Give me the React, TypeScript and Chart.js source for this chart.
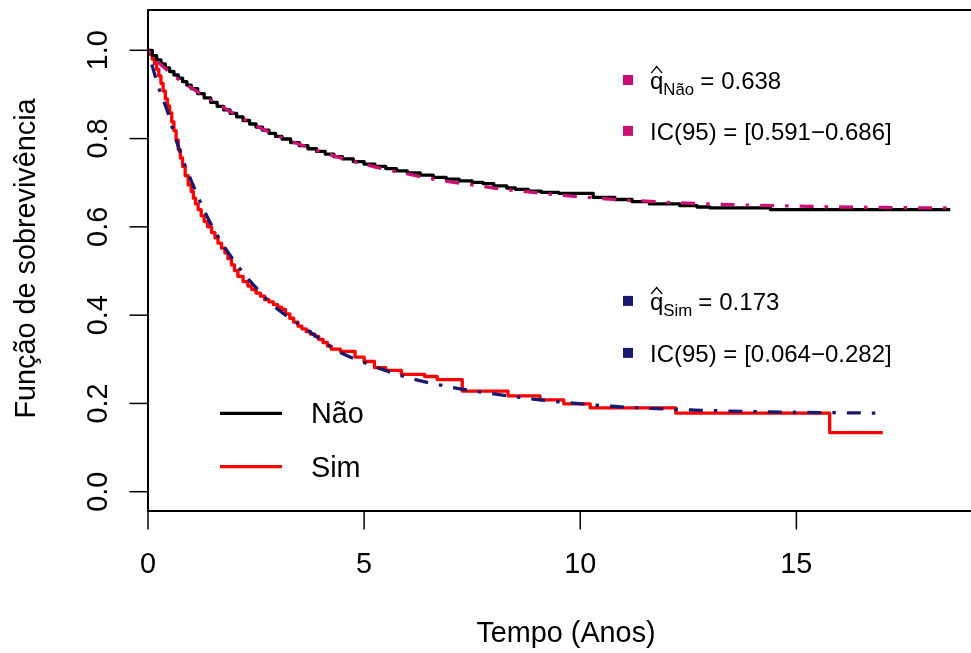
import React, { useEffect, useRef } from "react";
import { Chart, registerables } from "chart.js";

Chart.register(...registerables);

// ---- data ----
const kmNaoT = [0, 0.1, 0.2, 0.3, 0.4, 0.5, 0.6, 0.7, 0.8, 0.9, 1.0, 1.15, 1.3, 1.45, 1.6, 1.75, 1.9, 2.05, 2.2, 2.35, 2.5, 2.65, 2.8, 2.95, 3.1, 3.3, 3.5, 3.7, 3.9, 4.1, 4.3, 4.5, 4.75, 5.0, 5.25, 5.5, 5.75, 6.0, 6.3, 6.6, 6.9, 7.2, 7.5, 7.75, 8.0, 8.3, 8.5, 8.8, 9.1, 9.5, 10.3, 10.8, 11.2, 11.6, 12.3, 12.7, 13.0, 14.4, 18.56];
const kmNaoS = [1.0, 0.988, 0.978, 0.969, 0.96, 0.952, 0.944, 0.937, 0.929, 0.921, 0.913, 0.902, 0.892, 0.882, 0.873, 0.865, 0.857, 0.849, 0.841, 0.833, 0.826, 0.819, 0.812, 0.805, 0.799, 0.791, 0.784, 0.777, 0.771, 0.765, 0.759, 0.754, 0.748, 0.742, 0.737, 0.732, 0.727, 0.722, 0.717, 0.712, 0.708, 0.704, 0.701, 0.698, 0.693, 0.688, 0.685, 0.681, 0.678, 0.676, 0.667, 0.662, 0.657, 0.652, 0.648, 0.645, 0.643, 0.639, 0.639];

const kmSimT = [0, 0.05, 0.1, 0.15, 0.2, 0.25, 0.3, 0.35, 0.4, 0.45, 0.5, 0.55, 0.6, 0.65, 0.7, 0.75, 0.8, 0.86, 0.93, 1.0, 1.05, 1.1, 1.16, 1.23, 1.3, 1.38, 1.47, 1.55, 1.62, 1.7, 1.78, 1.85, 1.93, 2.0, 2.08, 2.2, 2.31, 2.4, 2.5, 2.6, 2.7, 2.8, 2.9, 3.0, 3.09, 3.18, 3.28, 3.37, 3.47, 3.56, 3.66, 3.76, 3.86, 3.95, 4.05, 4.15, 4.24, 4.45, 4.79, 5.0, 5.24, 5.5, 5.86, 6.4, 6.69, 7.27, 8.33, 9.07, 9.62, 10.23, 12.21, 15.77, 17.0];
const kmSimS = [1.0, 0.99, 0.98, 0.97, 0.957, 0.942, 0.925, 0.908, 0.89, 0.874, 0.858, 0.838, 0.818, 0.797, 0.775, 0.756, 0.737, 0.716, 0.695, 0.68, 0.665, 0.652, 0.639, 0.625, 0.612, 0.6, 0.587, 0.575, 0.563, 0.552, 0.541, 0.528, 0.514, 0.501, 0.488, 0.476, 0.466, 0.458, 0.45, 0.443, 0.435, 0.43, 0.424, 0.418, 0.413, 0.403, 0.393, 0.384, 0.375, 0.369, 0.363, 0.357, 0.352, 0.345, 0.338, 0.33, 0.323, 0.318, 0.305, 0.295, 0.281, 0.275, 0.266, 0.261, 0.254, 0.228, 0.217, 0.208, 0.199, 0.19, 0.178, 0.134, 0.134];

const fitNaoT = [0, 0.25, 0.5, 0.75, 1, 1.5, 2, 2.5, 3, 3.5, 4, 4.5, 5, 5.5, 6, 6.5, 7, 7.5, 8, 9, 10, 11, 12, 13, 14, 15, 16, 17, 18, 18.6];
const fitNaoS = [1.0, 0.972, 0.95, 0.931, 0.915, 0.885, 0.856, 0.829, 0.806, 0.787, 0.77, 0.755, 0.742, 0.73, 0.72, 0.71, 0.702, 0.695, 0.688, 0.677, 0.668, 0.661, 0.656, 0.652, 0.649, 0.647, 0.645, 0.644, 0.643, 0.643];

const fitSimT = [0, 0.12, 0.3, 0.45, 0.57, 0.77, 1.08, 1.39, 1.7, 2.0, 2.24, 2.55, 2.85, 3.24, 3.7, 4.09, 4.38, 4.96, 5.69, 6.19, 7.06, 7.68, 8.91, 9.91, 10.81, 12.63, 14.93, 17.0];
const fitSimS = [1.0, 0.957, 0.9, 0.862, 0.822, 0.762, 0.686, 0.619, 0.565, 0.522, 0.491, 0.457, 0.426, 0.396, 0.365, 0.338, 0.319, 0.294, 0.268, 0.254, 0.236, 0.226, 0.21, 0.2, 0.193, 0.185, 0.18, 0.178];

const xTicks = [0, 5, 10, 15];
const yTicks = [0, 0.2, 0.4, 0.6, 0.8, 1.0];
const yTickLabels = ["0.0", "0.2", "0.4", "0.6", "0.8", "1.0"];
const groups = ["Não", "Sim"];
const cureEst = [0.638, 0.173];
const ciLow = [0.591, 0.064];
const ciHigh = [0.686, 0.282];

const xLabel = "Tempo (Anos)";
const yLabel = "Função de sobrevivência";

const FONT = '"Liberation Sans", Arial, Helvetica, sans-serif';
const KM_COLORS = ["#000000", "#FF0000"];
const FIT_COLORS = ["#CD1076", "#191970"];

const pts = (t: number[], s: number[]) => t.map((x, i) => ({ x, y: s[i] }));

const rPlotPlugin = {
  id: "rplot",
  afterDraw(chart: any) {
    const ctx: CanvasRenderingContext2D = chart.ctx;
    const a = chart.chartArea;
    const xs = chart.scales.x;
    const ys = chart.scales.y;
    ctx.save();
    ctx.strokeStyle = "#000";
    ctx.fillStyle = "#000";
    // box (right side lies beyond the window)
    ctx.lineWidth = 2;
    ctx.beginPath();
    ctx.moveTo(chart.width + 5, a.top);
    ctx.lineTo(a.left, a.top);
    ctx.lineTo(a.left, a.bottom);
    ctx.lineTo(chart.width + 5, a.bottom);
    ctx.stroke();

    // y axis ticks
    ctx.lineWidth = 1.5;
    ctx.font = `28.8px ${FONT}`;
    yTicks.forEach((v, i) => {
      const y = ys.getPixelForValue(v);
      ctx.beginPath();
      ctx.moveTo(a.left - 18.5, y);
      ctx.lineTo(a.left, y);
      ctx.stroke();
      ctx.save();
      ctx.translate(106.5, y);
      ctx.rotate(-Math.PI / 2);
      ctx.textAlign = "center";
      ctx.textBaseline = "alphabetic";
      ctx.fillText(yTickLabels[i], 0, 0);
      ctx.restore();
    });
    // x axis ticks
    xTicks.forEach((v) => {
      const x = xs.getPixelForValue(v);
      ctx.beginPath();
      ctx.moveTo(x, a.bottom);
      ctx.lineTo(x, a.bottom + 18.5);
      ctx.stroke();
      ctx.textAlign = "center";
      ctx.textBaseline = "alphabetic";
      ctx.fillText(String(v), x, 573);
    });

    // axis titles
    ctx.font = `28.8px ${FONT}`;
    ctx.textAlign = "center";
    ctx.fillText(xLabel, 566, 642);
    ctx.save();
    ctx.translate(35, (a.top + a.bottom) / 2 - 2);
    ctx.rotate(-Math.PI / 2);
    ctx.fillText(yLabel, 0, 0);
    ctx.restore();

    // legend (bottom left)
    const legY = [413.3, 466.7];
    groups.forEach((g, i) => {
      ctx.strokeStyle = KM_COLORS[i];
      ctx.lineWidth = 3.3;
      ctx.beginPath();
      ctx.moveTo(220, legY[i]);
      ctx.lineTo(282, legY[i]);
      ctx.stroke();
      ctx.fillStyle = "#000";
      ctx.font = `28.8px ${FONT}`;
      ctx.textAlign = "left";
      ctx.fillText(g, 311, legY[i] + 10);
    });

    // cure fraction annotations
    const rowBase = [
      [88.6, 139.5],
      [309.5, 361.5],
    ];
    const tx = 650;
    groups.forEach((g, i) => {
      const [b1, b2] = rowBase[i];
      ctx.fillStyle = FIT_COLORS[i];
      ctx.fillRect(tx - 27, b1 - 8.6 - 5, 10, 10);
      ctx.fillRect(tx - 27, b2 - 8.6 - 5, 10, 10);
      ctx.fillStyle = "#000";
      ctx.strokeStyle = "#000";
      ctx.textAlign = "left";
      // q hat
      ctx.font = `24px ${FONT}`;
      ctx.fillText("q", tx, b1);
      const qw = ctx.measureText("q").width;
      ctx.lineWidth = 1.3;
      ctx.beginPath();
      ctx.moveTo(tx + 1.2, b1 - 15.5);
      ctx.lineTo(tx + qw / 2, b1 - 22);
      ctx.lineTo(tx + qw - 1.2, b1 - 15.5);
      ctx.stroke();
      ctx.font = `16.8px ${FONT}`;
      ctx.fillText(g, tx + qw, b1 + 6);
      let x = tx + qw + ctx.measureText(g).width + 6;
      ctx.font = `24px ${FONT}`;
      ctx.fillText("=", x, b1);
      x += ctx.measureText("=").width + 7;
      ctx.fillText(cureEst[i].toFixed(3), x, b1);
      // IC row
      ctx.fillText("IC(95)", tx, b2);
      let x2 = tx + ctx.measureText("IC(95)").width + 6.5;
      ctx.fillText("=", x2, b2);
      x2 += ctx.measureText("=").width + 7;
      ctx.fillText(`[${ciLow[i].toFixed(3)}\u2212${ciHigh[i].toFixed(3)}]`, x2, b2);
    });
    ctx.restore();
  },
};

export default function App() {
  const ref = useRef<HTMLCanvasElement | null>(null);
  useEffect(() => {
    document.body.style.margin = "0";
    if (!ref.current) return;
    const dash = [3.5, 11, 14, 11];
    const chart = new Chart(ref.current, {
      type: "line",
      data: {
        datasets: [
          {
            label: "fit Não",
            data: pts(fitNaoT, fitNaoS),
            borderColor: FIT_COLORS[0],
            borderWidth: 3.3,
            borderDash: dash,
            cubicInterpolationMode: "monotone",
            pointRadius: 0,
            order: 0,
          },
          {
            label: "fit Sim",
            data: pts(fitSimT, fitSimS),
            borderColor: FIT_COLORS[1],
            borderWidth: 3.3,
            borderDash: dash,
            cubicInterpolationMode: "monotone",
            pointRadius: 0,
            order: 0,
          },
          {
            label: groups[0],
            data: pts(kmNaoT, kmNaoS),
            borderColor: KM_COLORS[0],
            borderWidth: 3.3,
            stepped: "before",
            pointRadius: 0,
            borderJoinStyle: "round",
            order: 1,
          },
          {
            label: groups[1],
            data: pts(kmSimT, kmSimS),
            borderColor: KM_COLORS[1],
            borderWidth: 3.3,
            stepped: "before",
            pointRadius: 0,
            borderJoinStyle: "round",
            order: 1,
          },
        ],
      },
      options: {
        animation: false,
        responsive: true,
        maintainAspectRatio: false,
        layout: { padding: { left: 148, top: 10, right: 0, bottom: 142 } },
        plugins: { legend: { display: false }, tooltip: { enabled: false }, title: { display: false } },
        scales: {
          x: { type: "linear", min: 0, max: 19.04, display: false },
          y: { type: "linear", min: -0.0437, max: 1.0913, display: false },
        },
      },
      plugins: [rPlotPlugin],
    } as any);
    return () => chart.destroy();
  }, []);
  return (
    <div style={{ width: 971, height: 653, position: "relative", background: "#fff" }}>
      <canvas ref={ref} />
    </div>
  );
}
